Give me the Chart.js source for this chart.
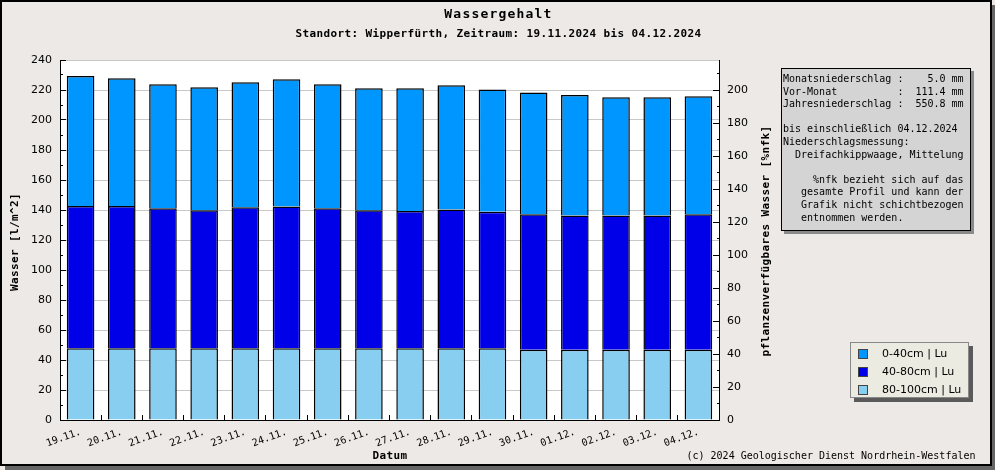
<!DOCTYPE html>
<html>
<head>
<meta charset="utf-8">
<script src="https://cdn.jsdelivr.net/npm/chart.js@4/dist/chart.umd.min.js"></script>
<style>
  html, body { margin:0; padding:0; background:#ece9e6; width:995px; height:470px; overflow:hidden; }
  #frame { position:absolute; left:0; top:0; width:992px; height:466px; box-sizing:border-box;
           border:2px solid #000; background:#ece9e6; box-shadow:5px 5px 0 #666; }
  #c { position:absolute; left:0; top:0; }
  .t { position:absolute; white-space:pre; color:#000; }
  .mono { font-family:"DejaVu Sans Mono", monospace; }
  .bold { font-weight:bold; }
  #info { position:absolute; left:781px; top:68px; width:190px; height:163px; box-sizing:border-box;
          background:#d4d4d4; border:1px solid #000; box-shadow:3px 3px 0 #8a8a8a;
          font-family:"DejaVu Sans Mono", monospace; font-size:10px; line-height:12.6px;
          padding:4px 0 0 1px; white-space:pre; color:#000; }
  #legend { position:absolute; left:850px; top:342px; width:119px; height:56px; box-sizing:border-box;
            background:#ecebe1; border:1px solid #888; box-shadow:4px 4px 0 #5a5a5a; }
  .li { position:absolute; left:0; width:117px; height:18px; font-family:"DejaVu Sans", sans-serif; font-size:11px; line-height:18px; }
  .sw { position:absolute; left:7px; top:4px; width:10px; height:10px; box-sizing:border-box; border:1px solid #444; }
  .lt { position:absolute; left:31px; top:0; white-space:pre; }
</style>
</head>
<body>
<div id="frame"></div>
<canvas id="c" width="995" height="470"></canvas>

<div class="t mono bold" style="left:0;top:6px;width:997px;text-align:center;font-size:13px;line-height:16px;letter-spacing:1.2px;">Wassergehalt</div>
<div class="t mono bold" style="left:0;top:26.7px;width:997px;text-align:center;font-size:11px;line-height:14px;letter-spacing:0.38px;">Standort: Wipperfürth, Zeitraum: 19.11.2024 bis 04.12.2024</div>
<div class="t mono bold" style="left:-85.3px;top:235px;width:200px;height:14px;text-align:center;font-size:11px;line-height:14px;letter-spacing:0.38px;transform:rotate(-90deg);">Wasser [l/m^2]</div>
<div class="t mono bold" style="left:616px;top:234px;width:300px;height:14px;text-align:center;font-size:11px;line-height:14px;letter-spacing:0.38px;transform:rotate(-90deg);">pflanzenverfügbares Wasser [%nfk]</div>
<div class="t mono bold" style="left:290px;top:448.7px;width:200px;text-align:center;font-size:11px;line-height:14px;letter-spacing:0.38px;">Datum</div>
<div class="t mono" style="left:686.5px;top:450px;font-size:10px;line-height:12px;">(c) 2024 Geologischer Dienst Nordrhein-Westfalen</div>

<div id="info">Monatsniederschlag :    5.0 mm
Vor-Monat          :  111.4 mm
Jahresniederschlag :  550.8 mm

bis einschließlich 04.12.2024
Niederschlagsmessung:
  Dreifachkippwaage, Mittelung

     %nfk bezieht sich auf das
   gesamte Profil und kann der
   Grafik nicht schichtbezogen
   entnommen werden.</div>

<div id="legend">
  <div class="li" style="top:2px;"><div class="sw" style="background:#0096ff;"></div><div class="lt">0-40cm | Lu</div></div>
  <div class="li" style="top:20px;"><div class="sw" style="background:#0000e8;"></div><div class="lt">40-80cm | Lu</div></div>
  <div class="li" style="top:38px;"><div class="sw" style="background:#87cef0;"></div><div class="lt">80-100cm | Lu</div></div>
</div>

<script>
const categories = ['19.11.','20.11.','21.11.','22.11.','23.11.','24.11.','25.11.','26.11.',
                    '27.11.','28.11.','29.11.','30.11.','01.12.','02.12.','03.12.','04.12.'];
// Water content per layer [l/m^2]
const layer80to100 = [47.8,47.8,47.8,47.8,47.8,47.8,47.8,47.8,47.8,47.8,47.8,46.9,46.9,46.9,46.9,46.9];
const layer40to80  = [94.9,94.9,93.3,92.0,94.0,94.6,93.3,92.0,91.5,92.6,91.1,90.2,89.5,89.5,89.5,90.2];
const layer0to40   = [86.6,85.1,82.7,82.0,83.3,84.7,82.7,81.3,81.8,82.7,81.5,81.3,80.3,78.7,78.7,78.7];
const leftMax = 240;          // Wasser [l/m^2]
const rightPerLeft = 1 / 1.1; // %nfk per l/m^2 (200 %nfk = 220 l/m^2)
const leftLabelStep = 20, rightLabelStep = 20, rightLabelMax = 200, minorStep = 10;

const whiteArea = {
  id: 'whiteArea',
  beforeDraw(chart) {
    const a = chart.chartArea, ctx = chart.ctx;
    ctx.save(); ctx.fillStyle = '#ffffff';
    ctx.fillRect(a.left, a.top, a.right - a.left, a.bottom - a.top);
    ctx.restore();
  }
};

const tickFont = { family: 'DejaVu Sans', size: 11 };

new Chart(document.getElementById('c'), {
  type: 'bar',
  data: {
    labels: categories,
    datasets: [
      { label: '80-100cm | Lu', data: layer80to100, backgroundColor: '#87cef0' },
      { label: '40-80cm | Lu',  data: layer40to80,  backgroundColor: '#0000e8' },
      { label: '0-40cm | Lu',   data: layer0to40,   backgroundColor: '#0096ff' }
    ]
  },
  options: {
    responsive: false,
    animation: false,
    devicePixelRatio: 1,
    layout: { padding: { left: 0, top: 60, right: 205, bottom: 0 } },
    plugins: { legend: { display: false }, tooltip: { enabled: false } },
    datasets: { bar: { categoryPercentage: 1, barPercentage: 0.67, borderWidth: 1.5, borderColor: '#000', borderSkipped: 'start', inflateAmount: 0 } },
    scales: {
      x: {
        stacked: true, offset: true,
        grid: { offset: true, drawOnChartArea: false, tickLength: -5, color: '#000', tickColor: '#000' },
        border: { color: '#000', width: 1 },
        ticks: { autoSkip: false, minRotation: 20, maxRotation: 20, padding: 11, color: '#000',
                 font: { family: 'DejaVu Sans Mono', size: 10 } },
        afterFit(s) { s.height = 50; }
      },
      y: {
        stacked: true, position: 'left', min: 0, max: leftMax,
        grid: {
          tickLength: -6,
          color: (c) => (c.tick && c.tick.value % leftLabelStep === 0 && c.tick.value !== 0) ? '#c8c8c8' : 'rgba(0,0,0,0)',
          tickColor: '#000',
          tickBorderDash: (c) => (c.tick && c.tick.value % leftLabelStep === 0) ? [] : [0, 3, 3, 100]
        },
        border: { color: '#000', width: 1 },
        ticks: { stepSize: minorStep, maxTicksLimit: 100, autoSkip: false, includeBounds: false, padding: 14, color: '#000', font: tickFont,
                 callback: (v) => (v % leftLabelStep === 0 ? String(v) : '') },
        afterFit(s) { s.width = 60; }
      },
      y2: {
        position: 'right', min: 0, max: leftMax * rightPerLeft,
        grid: {
          drawOnChartArea: false, tickLength: -6, color: '#000', tickColor: '#000',
          tickBorderDash: (c) => (c.tick && c.tick.value % rightLabelStep === 0) ? [] : [3, 100]
        },
        border: { color: '#000', width: 1 },
        ticks: { stepSize: minorStep, maxTicksLimit: 100, autoSkip: false, includeBounds: false, padding: 14, color: '#000', font: tickFont,
                 callback: (v) => (v % rightLabelStep === 0 && v <= rightLabelMax ? String(v) : '') },
        afterFit(s) { s.width = 71; }
      }
    }
  },
  plugins: [whiteArea]
});
</script>
</body>
</html>
